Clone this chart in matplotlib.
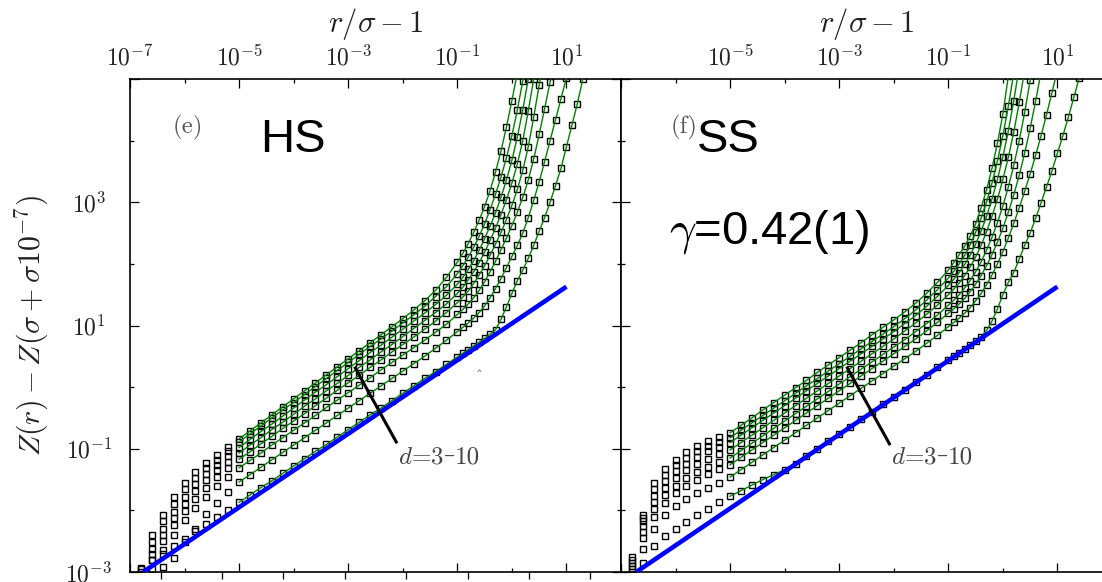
import numpy as np
import matplotlib
matplotlib.use('Agg')
import matplotlib.pyplot as plt
from matplotlib.ticker import FixedLocator, FixedFormatter, NullFormatter

plt.rcParams['mathtext.fontset'] = 'cm'
plt.rcParams['font.family'] = ['DejaVu Sans']

# ---------------- data (log10 values) ----------------
log_x = [-6.8, -6.6, -6.4, -6.2, -6.0, -5.8, -5.6, -5.4, -5.2, -5.0,
         -4.8, -4.6, -4.4, -4.2, -4.0, -3.8, -3.6, -3.4, -3.2, -3.0,
         -2.8, -2.6, -2.4, -2.2, -2.0, -1.8, -1.6, -1.4, -1.2, -1.0,
         -0.9, -0.8, -0.7, -0.6, -0.5, -0.4, -0.3, -0.2, -0.1, 0.0,
         0.1, 0.2, 0.3, 0.4, 0.5, 0.6, 0.7, 0.8, 0.9, 1.0,
         1.1, 1.2, 1.3, 1.4]
fit_start = -5.0   # green fits start at r/sigma-1 = 1e-5

# HS panel (e), d = 3 ... 10  (log10 of Z(r)-Z(sigma+sigma 1e-7))
hs_d3 = [-2.93, -2.81, -2.70, -2.58, -2.46, -2.34, -2.22, -2.10, -1.99, -1.87,
         -1.75, -1.63, -1.52, -1.40, -1.28, -1.16, -1.04, -0.93, -0.81, -0.69,
         -0.57, -0.45, -0.34, -0.22, -0.10, 0.02, 0.14, 0.25, 0.37, 0.49,
         0.55, 0.61, 0.67, 0.73, 0.79, 0.86, 0.93, 1.10, 1.30, 1.52,
         1.73, 1.90, 2.09, 2.30, 2.53, 2.75, 3.00, 3.27, 3.55, 3.90,
         4.25, 4.60, 5.00, 5.40]
hs_d4 = [-3.45, -3.15, -2.92, -2.78, -2.52, -2.30, -2.06, -1.88, -1.70, -1.54,
         -1.42, -1.30, -1.18, -1.06, -0.94, -0.82, -0.70, -0.58, -0.46, -0.34,
         -0.22, -0.10, 0.02, 0.14, 0.26, 0.38, 0.50, 0.63, 0.76, 0.90,
         0.97, 1.04, 1.12, 1.21, 1.32, 1.45, 1.60, 1.76, 1.94, 2.12,
         2.30, 2.50, 2.75, 3.03, 3.33, 3.66, 4.00, 4.34, 4.68, 5.02]
hs_d5 = [-3.30, -2.95, -2.65, -2.40, -2.16, -1.96, -1.78, -1.61, -1.46, -1.31,
         -1.19, -1.07, -0.94, -0.82, -0.70, -0.58, -0.46, -0.33, -0.21, -0.09,
         0.03, 0.15, 0.28, 0.40, 0.52, 0.64, 0.76, 0.89, 1.02, 1.18,
         1.26, 1.35, 1.45, 1.57, 1.71, 1.87, 2.04, 2.23, 2.42, 2.62,
         2.84, 3.08, 3.36, 3.70, 4.10, 4.52, 4.95, 5.40]
hs_d6 = [-3.20, -2.80, -2.50, -2.24, -2.01, -1.81, -1.63, -1.46, -1.31, -1.17,
         -1.05, -0.92, -0.80, -0.67, -0.55, -0.43, -0.30, -0.18, -0.05, 0.07,
         0.19, 0.32, 0.44, 0.57, 0.69, 0.81, 0.94, 1.07, 1.21, 1.37,
         1.46, 1.56, 1.68, 1.82, 1.97, 2.14, 2.32, 2.51, 2.72, 2.95,
         3.21, 3.52, 3.90, 4.38, 4.90, 5.40]
hs_d7 = [-3.10, -2.70, -2.40, -2.12, -1.89, -1.69, -1.51, -1.35, -1.21, -1.07,
         -0.94, -0.82, -0.69, -0.57, -0.44, -0.31, -0.19, -0.06, 0.06, 0.19,
         0.32, 0.44, 0.57, 0.69, 0.82, 0.95, 1.08, 1.21, 1.35, 1.52,
         1.62, 1.74, 1.87, 2.02, 2.19, 2.38, 2.58, 2.80, 3.04, 3.31,
         3.62, 4.00, 4.48, 5.00, 5.50]
hs_d8 = [-3.05, -2.62, -2.30, -2.02, -1.78, -1.58, -1.41, -1.26, -1.12, -0.98,
         -0.85, -0.72, -0.60, -0.47, -0.34, -0.21, -0.08, 0.04, 0.17, 0.30,
         0.43, 0.56, 0.68, 0.81, 0.94, 1.07, 1.20, 1.34, 1.49, 1.67,
         1.78, 1.91, 2.05, 2.22, 2.41, 2.61, 2.83, 3.08, 3.36, 3.68,
         4.06, 4.50, 5.00, 5.50]
hs_d9 = [-3.00, -2.52, -2.18, -1.90, -1.66, -1.48, -1.32, -1.18, -1.04, -0.89,
         -0.76, -0.63, -0.50, -0.37, -0.25, -0.12, 0.01, 0.14, 0.27, 0.40,
         0.53, 0.66, 0.78, 0.91, 1.04, 1.17, 1.31, 1.47, 1.63, 1.84,
         1.97, 2.11, 2.27, 2.45, 2.65, 2.88, 3.13, 3.41, 3.72, 4.08,
         4.50, 4.97, 5.45]
hs_d10 = [-2.95, -2.40, -2.08, -1.78, -1.55, -1.38, -1.23, -1.10, -0.97, -0.84,
          -0.71, -0.58, -0.45, -0.32, -0.19, -0.06, 0.07, 0.20, 0.33, 0.46,
          0.59, 0.72, 0.85, 0.98, 1.11, 1.25, 1.40, 1.57, 1.78, 2.03,
          2.17, 2.33, 2.51, 2.71, 2.93, 3.19, 3.49, 3.83, 4.22, 4.65,
          5.10]

# SS panel (f), d = 3 ... 10
ss_d3 = [-3.15, -2.85, -2.58, -2.42, -2.30, -2.19, -2.08, -1.97, -1.87, -1.77,
         -1.68, -1.59, -1.50, -1.42, -1.34, -1.24, -1.12, -1.00, -0.88, -0.76,
         -0.64, -0.52, -0.40, -0.28, -0.16, -0.04, 0.08, 0.20, 0.32, 0.44,
         0.50, 0.56, 0.62, 0.68, 0.75, 0.82, 0.92, 1.07, 1.27, 1.50,
         1.70, 1.86, 2.08, 2.30, 2.50, 2.74, 2.99, 3.25, 3.51, 3.80,
         4.08, 4.38, 4.70, 5.02]
ss_d4 = [-3.10, -2.62, -2.30, -2.08, -1.93, -1.82, -1.72, -1.63, -1.55, -1.46,
         -1.34, -1.22, -1.10, -0.98, -0.86, -0.74, -0.62, -0.50, -0.38, -0.26,
         -0.14, -0.02, 0.10, 0.22, 0.34, 0.46, 0.58, 0.71, 0.84, 0.98,
         1.05, 1.12, 1.20, 1.29, 1.40, 1.52, 1.66, 1.82, 2.00, 2.20,
         2.42, 2.66, 2.91, 3.18, 3.46, 3.76, 4.08, 4.42, 4.78, 5.15]
ss_d5 = [-3.00, -2.45, -2.10, -1.88, -1.72, -1.60, -1.50, -1.41, -1.33, -1.26,
         -1.14, -1.02, -0.90, -0.78, -0.66, -0.54, -0.42, -0.30, -0.18, -0.06,
         0.06, 0.18, 0.30, 0.42, 0.54, 0.66, 0.78, 0.91, 1.05, 1.20,
         1.27, 1.35, 1.44, 1.55, 1.67, 1.81, 1.97, 2.15, 2.35, 2.58,
         2.84, 3.12, 3.44, 3.80, 4.20, 4.64, 5.12]
ss_d6 = [-2.95, -2.35, -1.98, -1.75, -1.60, -1.48, -1.38, -1.29, -1.22, -1.15,
         -1.03, -0.91, -0.79, -0.67, -0.55, -0.43, -0.31, -0.19, -0.07, 0.05,
         0.17, 0.29, 0.41, 0.53, 0.65, 0.77, 0.90, 1.03, 1.17, 1.33,
         1.41, 1.50, 1.61, 1.73, 1.87, 2.03, 2.22, 2.43, 2.67, 2.94,
         3.25, 3.60, 4.00, 4.46, 4.98, 5.50]
ss_d7 = [-2.90, -2.25, -1.86, -1.63, -1.47, -1.35, -1.25, -1.16, -1.09, -1.02,
         -0.90, -0.78, -0.66, -0.54, -0.42, -0.30, -0.18, -0.06, 0.06, 0.18,
         0.30, 0.42, 0.54, 0.66, 0.78, 0.91, 1.04, 1.18, 1.33, 1.50,
         1.59, 1.69, 1.81, 1.95, 2.11, 2.30, 2.52, 2.77, 3.05, 3.37,
         3.73, 4.14, 4.62, 5.15]
ss_d8 = [-2.85, -2.18, -1.76, -1.52, -1.36, -1.24, -1.13, -1.04, -0.97, -0.90,
         -0.78, -0.66, -0.54, -0.42, -0.30, -0.18, -0.06, 0.06, 0.18, 0.30,
         0.42, 0.54, 0.66, 0.78, 0.90, 1.03, 1.16, 1.31, 1.47, 1.65,
         1.75, 1.86, 1.99, 2.14, 2.32, 2.53, 2.77, 3.05, 3.37, 3.74,
         4.16, 4.65, 5.20]
ss_d9 = [-2.80, -2.12, -1.66, -1.42, -1.27, -1.15, -1.04, -0.96, -0.89, -0.82,
         -0.70, -0.58, -0.46, -0.34, -0.22, -0.10, 0.02, 0.14, 0.26, 0.38,
         0.50, 0.62, 0.74, 0.86, 0.98, 1.11, 1.25, 1.41, 1.58, 1.77,
         1.88, 2.00, 2.14, 2.31, 2.51, 2.74, 3.00, 3.31, 3.67, 4.08,
         4.56, 5.10]
ss_d10 = [-2.75, -2.08, -1.56, -1.33, -1.19, -1.05, -0.95, -0.88, -0.81, -0.74,
          -0.62, -0.50, -0.37, -0.25, -0.13, -0.01, 0.11, 0.24, 0.36, 0.48,
          0.60, 0.72, 0.85, 0.97, 1.09, 1.22, 1.36, 1.52, 1.70, 1.90,
          2.02, 2.15, 2.29, 2.45, 2.65, 2.91, 3.20, 3.55, 3.96, 4.43,
          5.05]

# thick blue reference power laws (log10 endpoints)
hs_blue_lx = [-6.76, 1.0]
hs_blue_ly = [-3.0, 1.63]
ss_blue_lx = [-6.72, 1.0]
ss_blue_ly = [-3.0, 1.63]

x_major = [-7, -5, -3, -1, 1]
x_minor = [-6, -4, -2, 0, 2]
y_major = [-3, -1, 1, 3, 5]
y_minor = [-2, 0, 2, 4]

hs_series = [hs_d3, hs_d4, hs_d5, hs_d6, hs_d7, hs_d8, hs_d9, hs_d10]
ss_series = [ss_d3, ss_d4, ss_d5, ss_d6, ss_d7, ss_d8, ss_d9, ss_d10]

# ---------------- figure ----------------
W, H = 1102, 582
fig = plt.figure(figsize=(W / 100, H / 100), dpi=100)


def rect(x0, y0, x1, y1):
    return [x0 / W, 1 - y1 / H, (x1 - x0) / W, (y1 - y0) / H]


axL = fig.add_axes(rect(130, 79, 621, 572))
axR = fig.add_axes(rect(621, 79, 1112, 572))

# bottom ticks of the (cropped) axis below the left panel
axB = fig.add_axes(rect(130, 79, 621, 572), frameon=False)
axB.set_xlim(-0.5, 7.5)
axB.set_ylim(0, 1)
axB.set_xticks(range(8))
axB.set_yticks([])
axB.tick_params(axis='x', direction='out', length=5, width=0.9,
                labelbottom=False, labeltop=False)
axB.patch.set_visible(False)

green = '#008200'
tick_col = '#222222'

for ax, series, blx, bly in ((axL, hs_series, hs_blue_lx, hs_blue_ly),
                             (axR, ss_series, ss_blue_lx, ss_blue_ly)):
    ax.set_xscale('log')
    ax.set_yscale('log')
    for vals in series:
        lx = np.array(log_x[:len(vals)])
        ly = np.array(vals)
        ax.plot(10 ** lx, 10 ** ly, ls='none', marker='s', ms=3.9,
                mfc='none', mec='black', mew=1.0, zorder=2)
        m = lx >= fit_start - 1e-9
        ax.plot(10 ** lx[m], 10 ** ly[m], color=green, lw=1.0, zorder=3)
    ax.plot(10 ** np.array(blx), 10 ** np.array(bly), color='#0000ff',
            lw=3.3, solid_capstyle='butt', zorder=4)
    ax.set_xlim(1e-7, 1e2)
    ax.set_ylim(1e-3, 1e5)

    ax.xaxis.set_major_locator(FixedLocator([10.0 ** e for e in x_major]))
    ax.xaxis.set_minor_locator(FixedLocator([10.0 ** e for e in x_minor]))
    ax.yaxis.set_major_locator(FixedLocator([10.0 ** e for e in y_major]))
    ax.yaxis.set_minor_locator(FixedLocator([10.0 ** e for e in y_minor]))
    ax.xaxis.set_minor_formatter(NullFormatter())
    ax.yaxis.set_minor_formatter(NullFormatter())
    ax.tick_params(which='both', direction='in', top=True, bottom=True,
                   left=True, right=True, width=0.9, color='black',
                   labelcolor=tick_col, labelsize=17)
    ax.tick_params(which='major', length=6.5)
    ax.tick_params(which='minor', length=3.2)
    ax.tick_params(axis='x', labeltop=True, labelbottom=False, pad=6)
    for sp in ax.spines.values():
        sp.set_linewidth(1.2)

axL.xaxis.set_major_formatter(FixedFormatter(
    ['$10^{%d}$' % e for e in x_major]))
axR.xaxis.set_major_formatter(FixedFormatter(
    [''] + ['$10^{%d}$' % e for e in x_major[1:]]))
axL.yaxis.set_major_formatter(FixedFormatter(
    ['$10^{%d}$' % e for e in y_major[:-1]] + ['']))
axR.yaxis.set_major_formatter(NullFormatter())
axR.tick_params(axis='y', labelleft=False)
axL.tick_params(axis='y', which='major', pad=29.5)
plt.setp(axL.get_yticklabels(), ha='center')

# axis titles
fig.text(375.5 / W, 1 - 24 / H, r'$r/\sigma-1$', ha='center', va='center',
         fontsize=22, color=tick_col)
fig.text(866.5 / W, 1 - 24 / H, r'$r/\sigma-1$', ha='center', va='center',
         fontsize=22, color=tick_col)
fig.text(32 / W, 1 - 326 / H, r'$Z(r)-Z(\sigma+\sigma10^{-7})$', rotation=90,
         ha='center', va='center', fontsize=21.5, color=tick_col)

# panel annotations
serif = ['cmr10', 'DejaVu Serif']
fig.text(188 / W, 1 - 127 / H, '(e)', family=serif, fontsize=18,
         color='#555555', ha='center', va='center')
fig.text(684 / W, 1 - 127 / H, '(f)', family=serif, fontsize=18,
         color='#555555', ha='center', va='center')
fig.text(293 / W, 1 - 152 / H, 'HS', family='Liberation Sans', fontsize=34,
         ha='center', va='baseline', color='black')
fig.text(728 / W, 1 - 152 / H, 'SS', family='Liberation Sans', fontsize=34,
         ha='center', va='baseline', color='black')
fig.text(769 / W, 1 - 243 / H, r'$\gamma$=0.42(1)', family='Liberation Sans',
         fontsize=34, ha='center', va='baseline', color='black')

# d = 3-10 pointers
axL.plot([10 ** -2.87, 10 ** -2.12], [10 ** 0.31, 10 ** -0.89],
         color='black', lw=2.2, zorder=5)
axR.plot([10 ** -2.85, 10 ** -2.08], [10 ** 0.31, 10 ** -0.92],
         color='black', lw=2.2, zorder=5)

renderer = fig.canvas.get_renderer()
label_col = '#444444'
for x0 in (398, 891):
    y0 = 1 - 463 / H
    t1 = fig.text(x0 / W, y0, r'$d$=3', family=serif, fontsize=18,
                  color=label_col, ha='left', va='baseline')
    x1 = t1.get_window_extent(renderer).x1
    t2 = fig.text(x1 / W, y0, '\u2013', family=['DejaVu Serif'], fontsize=16,
                  color=label_col, ha='left', va='baseline')
    x2 = t2.get_window_extent(renderer).x1
    fig.text(x2 / W, y0, '10', family=serif, fontsize=18,
             color=label_col, ha='left', va='baseline')

fig.text(479 / W, 1 - 377 / H, '\u02c6', fontsize=10, color='#777777',
         ha='center', va='center')

fig.savefig('out.png', dpi=100)
